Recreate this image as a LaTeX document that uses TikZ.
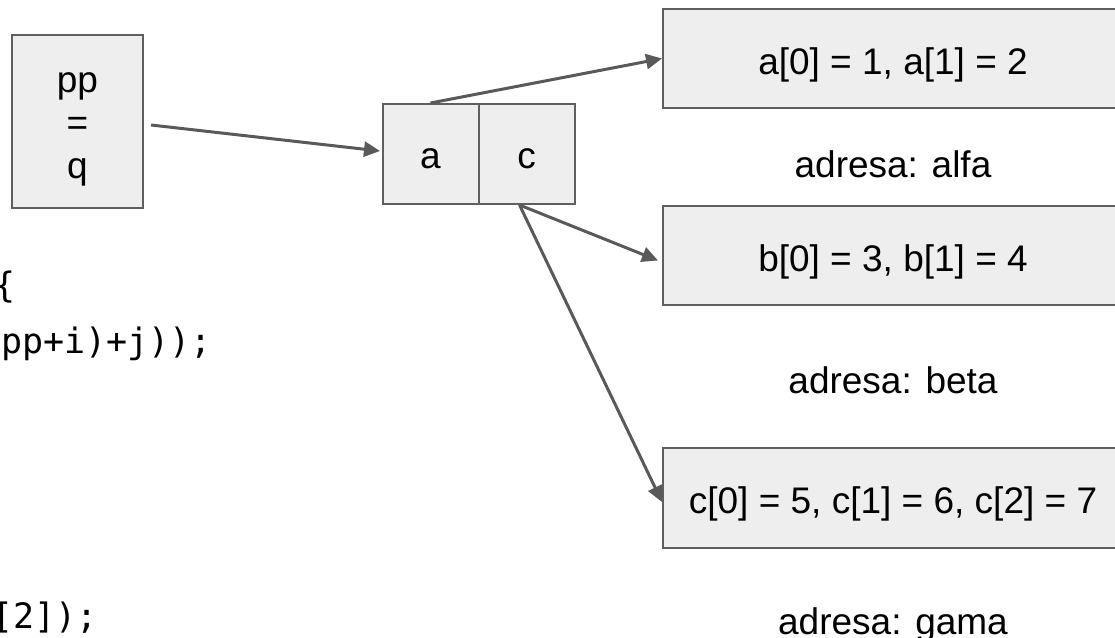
\documentclass[tikz,border=0pt]{standalone}
\usepackage{fontspec}
\setmainfont{Liberation Sans}
\newfontfamily\codefont{DejaVu Sans Mono}
\usetikzlibrary{arrows.meta}
\definecolor{boxfill}{HTML}{EEEEEE}
\definecolor{boxline}{HTML}{5F5F5F}
\definecolor{arrowcol}{HTML}{595959}
\begin{document}
\begin{tikzpicture}[x=1pt,y=-1pt,
  box/.style={draw=boxline, line width=2pt, fill=boxfill, inner sep=0pt, font=\fontsize{37}{44}\selectfont},
  lbl/.style={inner sep=0pt, font=\fontsize{37}{44}\selectfont},
  code/.style={inner sep=0pt, anchor=base west, font=\codefont\fontsize{35}{42}\selectfont},
  conn/.style={draw=arrowcol, line width=3pt, -{Triangle[length=16pt,width=15pt]}}]
\useasboundingbox (0,0) rectangle (1115,637);

% pointer box pp = q
\node[box, minimum width=131pt, minimum height=173pt] (pp) at (77.5,121.5) {};
\node[lbl, anchor=base] (pp1) at (77.5,92) {pp};
\node[lbl, anchor=base] (pp2) at (77.5,135) {=};
\node[lbl, anchor=base] (pp3) at (77.5,178) {q};

% array of pointers
\node[box, minimum width=96pt, minimum height=100pt, text height=28pt, text depth=0pt] (cellA) at (430.5,154) {a};
\node[box, minimum width=96pt, minimum height=100pt, text height=28pt, text depth=0pt] (cellC) at (526.5,154) {c};

% arrays
\node[box, minimum width=460pt, minimum height=99pt, text height=31pt, text depth=0pt] (boxA) at (893,58.5) {a[0] = 1, a[1] = 2};
\node[box, minimum width=460pt, minimum height=99pt, text height=31pt, text depth=0pt] (boxB) at (893,255.5) {b[0] = 3, b[1] = 4};
\node[box, minimum width=460pt, minimum height=100pt, text height=31pt, text depth=0pt] (boxC) at (893,498) {c[0] = 5, c[1] = 6, c[2] = 7};

% address labels
\node[lbl, anchor=base] (adrA) at (893,177) {adresa: alfa};
\node[lbl, anchor=base] (adrB) at (893,393) {adresa: beta};
\node[lbl, anchor=base] (adrC) at (893,634) {adresa: gama};

% code fragments
\node[code] (code1) at (-6,297) {\{};
\node[code] (code2) at (1,353) {pp+i)+j));};
\node[code] (code3) at (-7.5,628) {[2]);};

% connectors
\draw[conn] ([xshift=7pt,yshift=-3.5pt]pp.east) -- ([xshift=-1.5pt,yshift=3pt]cellA.west);
\draw[conn] (cellA.north) -- (boxA.west);
\draw[conn] ([xshift=-7pt]cellC.south) -- ([xshift=-4pt,yshift=-5pt]boxB.west);
\draw[conn] ([xshift=-7pt]cellC.south) -- ([yshift=-4pt]boxC.west);
\end{tikzpicture}
\end{document}
